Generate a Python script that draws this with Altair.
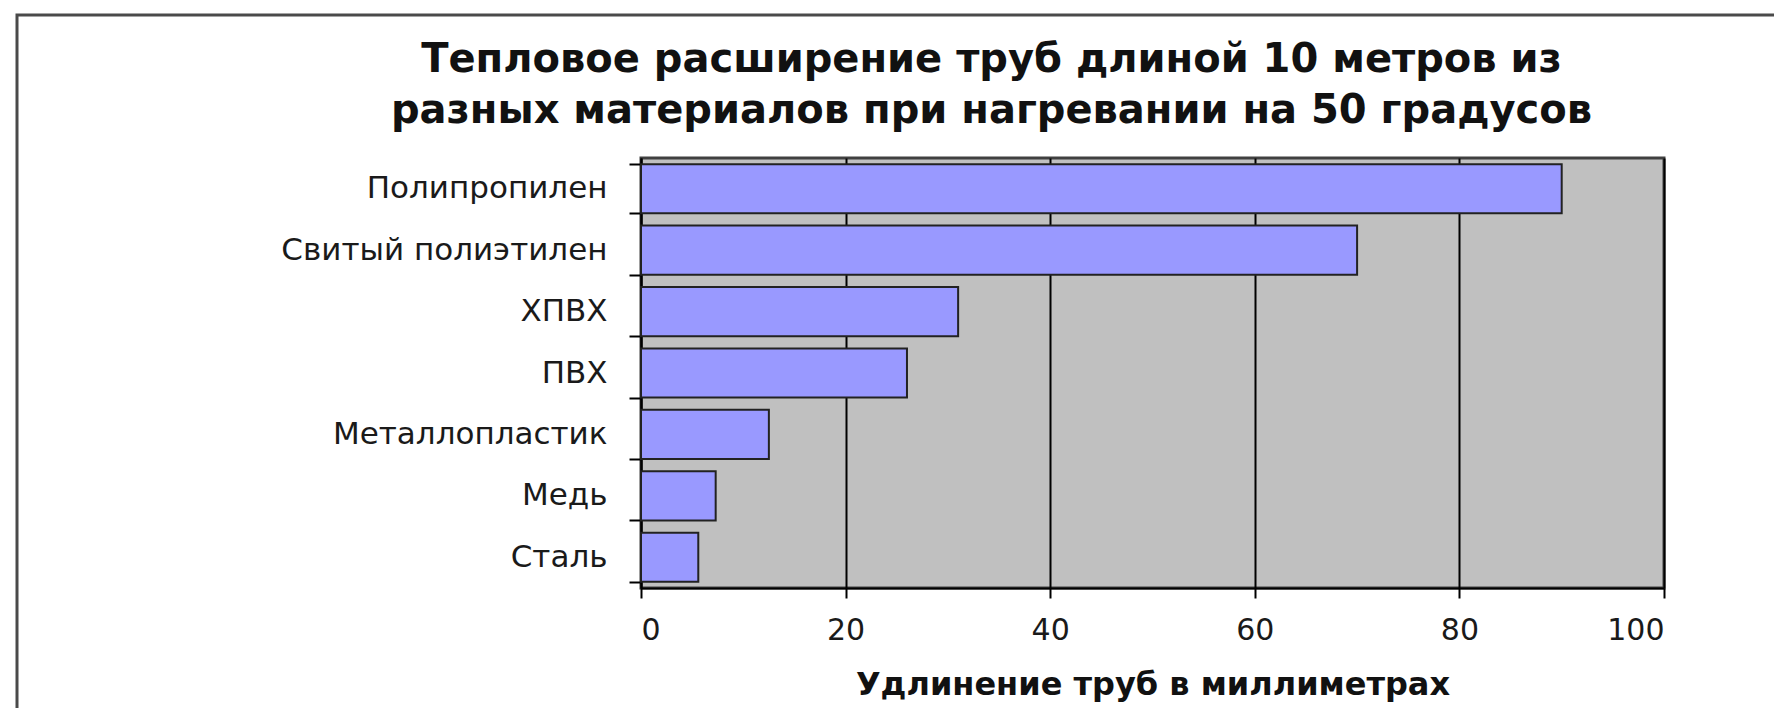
import altair as alt
import pandas as pd

materials = ["Полипропилен", "Свитый полиэтилен", "ХПВХ", "ПВХ",
             "Металлопластик", "Медь", "Сталь"]
elongation_mm = [90, 70, 31, 26, 12.5, 7.3, 5.6]
x_ticks = [0, 20, 40, 60, 80, 100]

title_lines = ["Тепловое расширение труб длиной 10 метров из",
               "разных материалов при нагревании на 50 градусов"]
x_title = "Удлинение труб в миллиметрах"

df = pd.DataFrame({"material": materials, "value": elongation_mm})
frame_df = pd.DataFrame({"k": [0]})

FONT = "DejaVu Sans"

frame = alt.Chart(frame_df).mark_rect(
    fill=None, stroke="#4a4a4a", strokeWidth=3
).encode(
    x=alt.value(-624), x2=alt.value(2400),
    y=alt.value(-143), y2=alt.value(1200),
)

bars = alt.Chart(df).mark_bar(
    fill="#9999FF", stroke="#222222", strokeWidth=2
).encode(
    x=alt.X("value:Q",
            scale=alt.Scale(domain=[0, 100], nice=False),
            axis=alt.Axis(
                values=x_ticks, title=x_title, grid=True,
                gridColor="#000000", gridWidth=2,
                domainColor="#000000", domainWidth=2,
                tickColor="#000000", tickWidth=2, tickSize=10,
                labelFont=FONT, labelFontSize=30, labelColor="#1a1a1a",
                labelPadding=17,
                titleFont=FONT, titleFontSize=32, titleFontWeight="bold",
                titleColor="#111111", titlePadding=24,
            )),
    y=alt.Y("material:N", sort=materials,
            scale=alt.Scale(paddingInner=0.2, paddingOuter=0.1),
            axis=alt.Axis(
                title=None, grid=False, tickBand="extent",
                domainColor="#000000", domainWidth=2,
                tickColor="#000000", tickWidth=2, tickSize=12,
                labelFont=FONT, labelFontSize=31, labelColor="#1a1a1a",
                labelPadding=22, labelLimit=800,
            )),
)

chart = alt.layer(frame, bars).properties(
    width=1023,
    height=430,
    autosize=alt.AutoSizeParams(type="none"),
    padding={"left": 633, "top": 150, "right": 110, "bottom": 120},
    background="white",
    title=alt.TitleParams(
        text=title_lines, anchor="middle", frame="group", dx=-161,
        font=FONT, fontSize=40, fontWeight="bold", color="#111111",
        lineHeight=51, offset=-117,
    ),
).configure_view(
    fill="#C0C0C0", stroke="#404040", strokeWidth=3
)

chart.save("out.html", embed_options={"renderer": "svg", "actions": False})
